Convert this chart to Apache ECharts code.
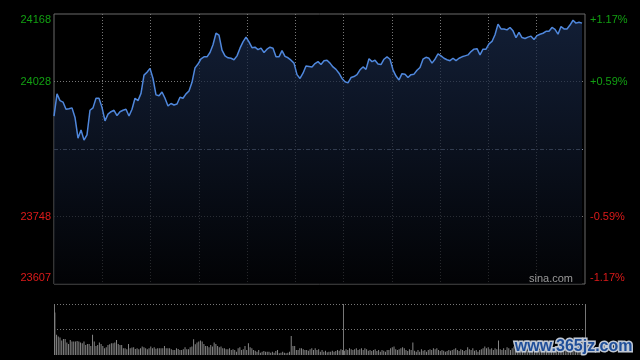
<!DOCTYPE html>
<html>
<head>
<meta charset="utf-8">
<script src="https://cdn.jsdelivr.net/npm/echarts@6/dist/echarts.min.js"></script>
<style>html,body{margin:0;padding:0;background:#000;}#c{width:640px;height:360px;}</style>
</head>
<body>
<div id="c"></div>
<script>
// ---- data ----
const prevClose = 23887.5;
const priceMin = 23607;
const priceMax = 24168;
const leftLabels = ['24168', '24028', '', '23748', '23607'];      // top -> bottom
const rightLabels = ['+1.17%', '+0.59%', '', '-0.59%', '-1.17%']; // top -> bottom
const slotCount = 178;
const prices = [
23956,24002,23988,23985,23970,23971,23973,23953,23910,23927,
23906,23917,23968,23973,23993,23993,23974,23946,23960,23965,
23968,23957,23965,23968,23970,23956,23970,23993,23988,24003,
24041,24047,24055,24034,24000,23998,24006,23993,23977,23982,
23979,23981,23995,23993,24002,24008,24026,24056,24064,24075,
24079,24079,24088,24104,24128,24124,24093,24081,24077,24076,
24073,24081,24097,24110,24120,24110,24098,24099,24094,24097,
24088,24095,24099,24097,24079,24079,24092,24080,24077,24072,
24066,24042,24034,24045,24060,24059,24058,24065,24069,24063,
24071,24072,24066,24058,24053,24045,24034,24027,24025,24036,
24038,24042,24052,24058,24053,24075,24069,24072,24064,24063,
24074,24079,24074,24052,24039,24031,24044,24043,24036,24042,
24043,24051,24057,24074,24078,24076,24066,24074,24085,24081,
24076,24073,24071,24076,24071,24076,24079,24081,24083,24090,
24095,24096,24083,24095,24095,24106,24111,24125,24147,24137,
24137,24135,24140,24133,24119,24130,24119,24117,24120,24122,
24115,24123,24126,24128,24132,24132,24140,24136,24126,24142,
24137,24137,24145,24155,24149,24151,24149
];
const volumes = [
127,60,55,52,43,48,48,37,33,45,
40,40,40,42,40,37,35,40,30,33,
33,27,60,40,27,30,37,33,27,20,
23,30,32,35,35,37,45,33,30,30,
20,20,17,33,20,22,23,18,20,17,
20,25,23,20,17,20,25,20,23,19,
20,20,20,20,27,20,20,20,17,15,
15,20,18,15,15,17,23,17,17,23,
25,47,32,37,40,43,40,33,27,27,
23,30,25,37,33,27,23,25,20,20,
17,17,20,15,17,15,10,20,23,15,
17,27,15,35,23,20,15,13,10,15,
7,10,12,10,10,10,7,10,7,12,
15,5,7,10,7,5,7,10,57,27,
27,15,15,20,20,17,15,15,13,17,
20,15,
20,15,17,10,15,10,13,8,10,10,
13,10,12,15,13,17,15,13,17,15,
20,17,15,17,20,15,17,20,15,20,
17,13,15,12,15,17,12,15,10,15,
13,10,15,15,20,23,25,17,15,17,
20,23,20,15,12,17,15,37,13,10,
15,10,17,13,15,10,15,17,15,20,
17,20,15,12,15,13,10,12,15,13,
15,17,20,15,12,17,15,12,15,23,
17,15,20,13,15,10,15,17,20,25,
20,23,17,20,15,20,17,43,17,15,
20,15,23,20,15,20,25,17,
15,12,17,13,15,18,12,15,17,13,
15,12,17,15,13,12,15,17,13,15,
12,15,13,17,15,12,15,13,17,12,
15,13,12,15,17,13,15,12,14,15
];
const slots = Array.from({length: slotCount}, (_, i) => i);
const volSlots = volumes.map((_, i) => i);

// ---- styles ----
const GREEN = '#12a012';
const RED = '#dd1a1a';
const GRIDC = '#777777';
const T = 'rgba(0,0,0,0)';
const FONT = '"Liberation Sans", Arial, sans-serif';

function labelFmt(arr) {
  return function (v) {
    const i = 4 - Math.round(v);
    const t = arr[i];
    if (!t) return '';
    const up = i < 2;
    let s = up ? 'g' : 'r';
    if (i === 0) s = 'gt';
    if (i === 4) s = 'rb';
    return '{' + s + '|' + t + '}';
  };
}
const rich = {
  g: {color: GREEN, fontSize: 11, fontFamily: FONT},
  r: {color: RED, fontSize: 11, fontFamily: FONT},
  gt: {color: GREEN, fontSize: 11, fontFamily: FONT, padding: [12, 0, 0, 0]},
  rb: {color: RED, fontSize: 11, fontFamily: FONT, padding: [0, 0, 12, 0]}
};

const chart = echarts.init(document.getElementById('c'), null, {renderer: 'canvas'});
chart.setOption({
  backgroundColor: '#000',
  animation: false,
  grid: [
    {left: 54, right: 55, top: 14, bottom: 76, show: true, borderColor: '#6a6a6a', borderWidth: 1, backgroundColor: 'transparent'},
    {left: 54, right: 55, top: 304, bottom: 5}
  ],
  xAxis: [
    {type: 'category', gridIndex: 0, data: slots, boundaryGap: false, show: false},
    {type: 'value', gridIndex: 0, min: 0, max: 330, interval: 30,
     axisLine: {show: false}, axisTick: {show: false}, axisLabel: {show: false},
     splitLine: {show: true, lineStyle: {type: [1, 2], width: 1,
       color: [T, GRIDC, GRIDC, GRIDC, GRIDC, GRIDC, GRIDC, GRIDC, GRIDC, GRIDC, GRIDC, T]}}},
    {type: 'category', gridIndex: 1, data: volSlots, boundaryGap: true, show: false},
    {type: 'value', gridIndex: 1, min: 0, max: 330, interval: 30,
     axisLine: {show: false}, axisTick: {show: false}, axisLabel: {show: false},
     splitLine: {show: true, lineStyle: {type: 'solid', width: 1,
       color: [GRIDC, T, T, T, T, T, GRIDC, T, T, T, T, GRIDC]}}}
  ],
  yAxis: [
    {type: 'value', gridIndex: 0, min: priceMin, max: priceMax, show: false},
    {type: 'value', gridIndex: 0, position: 'left', min: 0, max: 4, interval: 1,
     axisLine: {show: false}, axisTick: {show: false},
     axisLabel: {show: true, margin: 3, formatter: labelFmt(leftLabels), rich: rich},
     splitLine: {show: true, lineStyle: {type: [1, 2], width: 1, color: [T, GRIDC, T, GRIDC, T]}}},
    {type: 'value', gridIndex: 0, position: 'right', min: 0, max: 4, interval: 1,
     axisLine: {show: false}, axisTick: {show: false},
     axisLabel: {show: true, margin: 5, formatter: labelFmt(rightLabels), rich: rich},
     splitLine: {show: true, lineStyle: {type: [4, 2, 1, 2], width: 1, color: [T, T, '#8590a6', T, T]}}},
    {type: 'value', gridIndex: 1, min: 0, max: 152, interval: 76,
     axisLine: {show: false}, axisTick: {show: false}, axisLabel: {show: false},
     splitLine: {show: true, lineStyle: {type: [1, 2], width: 1, color: [T, GRIDC, GRIDC]}}}
  ],
  series: [
    {type: 'line', xAxisIndex: 0, yAxisIndex: 0, data: prices, symbol: 'none', z: 3,
     lineStyle: {color: '#4f87dc', width: 1.5},
     areaStyle: {origin: 'start', color: new echarts.graphic.LinearGradient(0, 0, 0, 1, [
       {offset: 0, color: '#1a2b4c'}, {offset: 1, color: '#030407'}])}},
    {type: 'bar', xAxisIndex: 2, yAxisIndex: 3, data: volumes, barWidth: 1,
     itemStyle: {color: '#858585'}}
  ],
  graphic: [
    {type: 'text', right: 67, top: 273, z: 10,
     style: {text: 'sina.com', fill: '#9a9a9a', font: '11px ' + FONT}},
    {type: 'text', right: 6, top: 337, z: 10,
     style: {text: 'www.365jz.com', fill: '#1f4e99', stroke: '#c0c8d4', lineWidth: 3,
             font: 'bold 16px ' + FONT}}
  ]
});
</script>
</body>
</html>
